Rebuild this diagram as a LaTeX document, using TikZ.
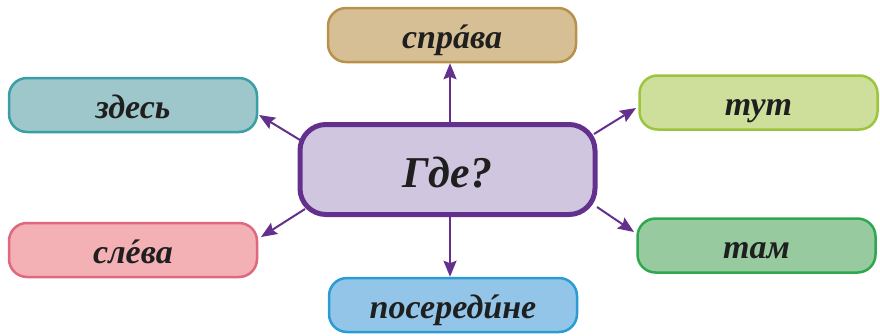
\documentclass[tikz,border=0pt]{standalone}
\usepackage{fontspec}
\setmainfont{Liberation Serif}
\usetikzlibrary{arrows.meta}
\definecolor{arr}{HTML}{63318D}
\definecolor{cfill}{HTML}{D0C6E0}
\definecolor{tanF}{HTML}{D6BF94}\definecolor{tanB}{HTML}{B8914A}
\definecolor{tealF}{HTML}{9DC7CB}\definecolor{tealB}{HTML}{3A9EA5}
\definecolor{limeF}{HTML}{CEDF9C}\definecolor{limeB}{HTML}{9CC53E}
\definecolor{pinkF}{HTML}{F3B0B5}\definecolor{pinkB}{HTML}{E0687E}
\definecolor{grnF}{HTML}{97CB9F}\definecolor{grnB}{HTML}{2EA84F}
\definecolor{bluF}{HTML}{92C5E8}\definecolor{bluB}{HTML}{2A9BD3}
\newcommand{\stressmark}[1]{\accent"00B4 #1}
\tikzset{
  word/.style={rounded corners=18pt, line width=2.5pt, minimum width=248pt, minimum height=54pt,
    inner sep=0pt, text height=30pt, text depth=4pt,
    font=\fontsize{34}{36}\selectfont\bfseries\itshape, text=black!88},
  hub/.style={rounded corners=26pt, line width=5pt, draw=arr, fill=cfill, minimum width=295pt,
    minimum height=90pt, inner sep=0pt, text height=42pt, text depth=7pt,
    font=\fontsize{44}{48}\selectfont\bfseries\itshape, text=black!88},
  link/.style={draw=arr, line width=2pt, -{Stealth[length=16pt,width=13pt,inset=2.5pt]}}
}
\begin{document}
\begin{tikzpicture}[x=1pt,y=-1pt]
\useasboundingbox (0,0) rectangle (880,335);
\node[hub] (c) at (447.5,169.5) {Где?};
\node[word, draw=tanB, fill=tanF] (top) at (452,35) {спр\stressmark{а}ва};
\node[word, draw=tealB, fill=tealF] (lt) at (133,105) {здесь};
\node[word, draw=limeB, fill=limeF, minimum width=238pt] (rt) at (758.5,102.5) {тут};
\node[word, draw=pinkB, fill=pinkF] (lb) at (133,250) {сл\stressmark{е}ва};
\node[word, draw=grnB, fill=grnF, minimum width=238pt] (rb) at (756.5,245.5) {там};
\node[word, draw=bluB, fill=bluF] (bot) at (453,305) {посеред\stressmark{и}не};
\coordinate (s1) at (450,124);
\coordinate (s2) at (300,140);
\coordinate (s3) at (594,134);
\coordinate (s4) at (305,209);
\coordinate (s5) at (597,207);
\coordinate (s6) at (450,216);
\draw[link] (s1) -- (top.south -| s1);
\draw[link] (s2) -- (259,115);
\draw[link] (s3) -- (636,108);
\draw[link] (s4) -- (261,237);
\draw[link] (s5) -- (634,232);
\draw[link] (s6) -- (bot.north -| s6);
\end{tikzpicture}
\end{document}
